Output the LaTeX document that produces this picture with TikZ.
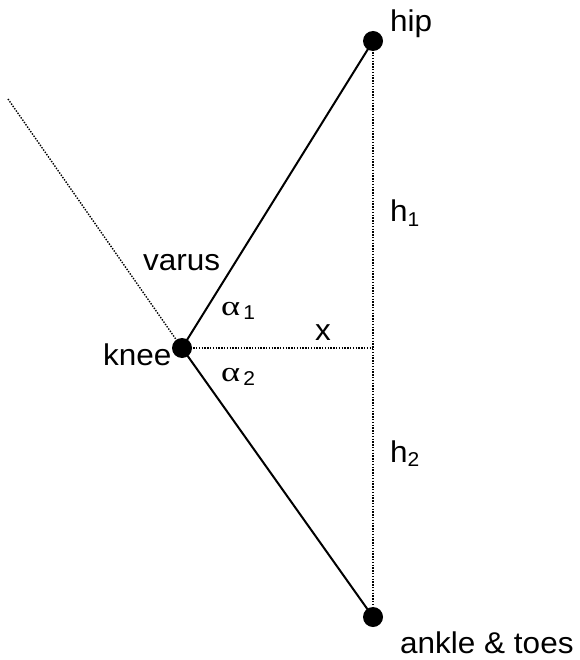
\documentclass[tikz,border=0pt]{standalone}
\usepackage{fontspec}
\setmainfont{Liberation Sans}[FakeStretch=1.05]
\newfontfamily\greekfont{Liberation Serif}[FakeStretch=1.3]
\begin{document}
\begin{tikzpicture}[x=1pt,y=-1pt,
  joint/.style={circle,fill=black,inner sep=0pt,minimum size=20pt},
  bone/.style={line width=2pt},
  guide/.style={line width=1.4pt,dash pattern=on 1.4pt off 1.4pt},
  lbl/.style={anchor=base west,inner sep=0pt,font=\fontsize{30}{34}\selectfont}]
\useasboundingbox (0,0) rectangle (579,660);
\newcommand\sbs[1]{\raisebox{-0.16em}{\fontsize{20}{22}\selectfont #1}}
\newcommand\alf{{\greekfont\fontsize{28}{30}\selectfont α}}
\node[joint] (hip) at (373,41) {};
\node[joint] (knee) at (182,348) {};
\node[joint] (ankle) at (373,617) {};
\coordinate (foot) at (373,348);
\coordinate (ext) at (8,99);
\draw[guide] (hip.center) -- (ankle.center);
\draw[guide] (knee.center) -- (foot);
\draw[guide] (knee.center) -- (ext);
\draw[bone] (hip.center) -- (knee.center) -- (ankle.center);
\node[lbl] (lhip) at (390,32) {hip};
\node[lbl] (lh1) at (390,222) {h\sbs{1}};
\node[lbl] (lvarus) at (143,270) {varus};
\node[lbl] (la1) at (221,315) {\alf\kern3pt\sbs{1}};
\node[lbl] (lx) at (315,340) {x};
\node[lbl] (lknee) at (103,365) {knee};
\node[lbl] (la2) at (221,381) {\alf\kern3pt\sbs{2}};
\node[lbl] (lh2) at (390,462) {h\sbs{2}};
\node[lbl] (lankle) at (400,653) {ankle \& toes};
\end{tikzpicture}
\end{document}
